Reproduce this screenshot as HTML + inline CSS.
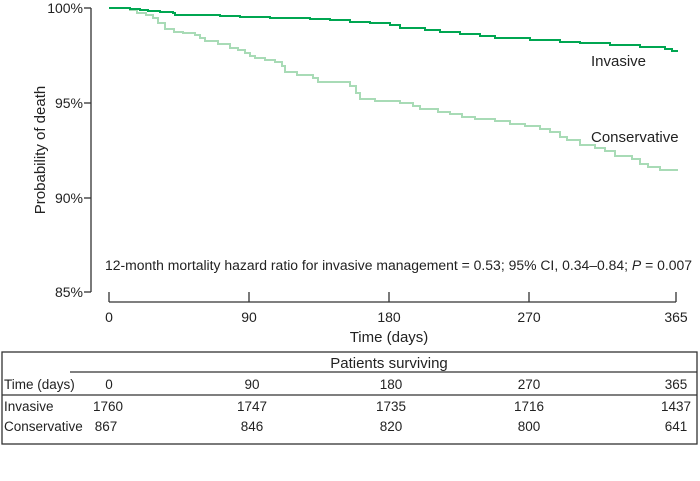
<!DOCTYPE html>
<html><head><meta charset="utf-8"><style>
body{margin:0;background:#fff;width:700px;height:476px;overflow:hidden}
text{font-family:"Liberation Sans",sans-serif;fill:#222}
</style></head><body>
<svg width="700" height="476" viewBox="0 0 700 476" xmlns="http://www.w3.org/2000/svg">
<g stroke="#333" stroke-width="1.3" fill="none">
<line x1="91" y1="8" x2="91" y2="292"/>
<line x1="84" y1="8" x2="91" y2="8"/>
<line x1="84" y1="103" x2="91" y2="103"/>
<line x1="84" y1="198" x2="91" y2="198"/>
<line x1="84" y1="292" x2="91" y2="292"/>
<line x1="109" y1="302" x2="676" y2="302"/>
<line x1="109" y1="292" x2="109" y2="302"/>
<line x1="249" y1="292" x2="249" y2="302"/>
<line x1="389" y1="292" x2="389" y2="302"/>
<line x1="529" y1="292" x2="529" y2="302"/>
<line x1="676" y1="292" x2="676" y2="302"/>
</g>
<g font-size="14" text-anchor="end">
<text x="83" y="13">100%</text><text x="83" y="108">95%</text><text x="83" y="203">90%</text><text x="83" y="297">85%</text>
</g>
<g font-size="14" text-anchor="middle">
<text x="109" y="322">0</text><text x="249" y="322">90</text><text x="389" y="322">180</text><text x="529" y="322">270</text><text x="676" y="322">365</text>
<text x="389" y="342" font-size="15">Time (days)</text>
</g>
<text transform="translate(45,150) rotate(-90)" font-size="15" text-anchor="middle">Probability of death</text>
<text x="105" y="270" font-size="13.5" textLength="587" lengthAdjust="spacingAndGlyphs">12-month mortality hazard ratio for invasive management = 0.53; 95% CI, 0.34–0.84; <tspan font-style="italic">P</tspan> = 0.007</text>
<text x="591" y="66" font-size="15">Invasive</text>
<text x="591" y="142" font-size="15">Conservative</text>
<polyline fill="none" stroke="#a8dbb6" stroke-width="2" points="109,8 130,8 130,10 137,10 137,13 146,13 146,15 153,15 153,18 158,18 158,23 165,23 165,29 174,29 174,32 183,32 183,33 195,33 195,35 200,35 200,38 205,38 205,41 218,41 218,44 230,44 230,48 238,48 238,50 245,50 245,53 250,53 250,56 255,56 255,58 265,58 265,60 275,60 275,62 282,62 282,66 285,66 285,72 297,72 297,75 313,75 313,78 318,78 318,82 350,82 350,86 356,86 356,93 360,93 360,99 375,99 375,101 400,101 400,103 413,103 413,106 420,106 420,109 438,109 438,112 450,112 450,114 462,114 462,117 475,117 475,119 495,119 495,121 510,121 510,124 525,124 525,126 540,126 540,129 550,129 550,132 560,132 560,137 567,137 567,140 580,140 580,145 595,145 595,148 605,148 605,151 615,151 615,156 632,156 632,159 640,159 640,164 648,164 648,167 660,167 660,170 678,170"/>
<polyline fill="none" stroke="#00a651" stroke-width="2" points="109,8 130,8 130,9 140,9 140,10 148,10 148,11 160,11 160,12 173,12 173,13 175,13 175,15 220,15 220,16 240,16 240,17 270,17 270,18 310,18 310,19 330,19 330,20 350,20 350,22 370,22 370,23 390,23 390,25 400,25 400,28 425,28 425,30 440,30 440,32 460,32 460,34 480,34 480,36 495,36 495,38 530,38 530,40 560,40 560,42 580,42 580,43 610,43 610,45 640,45 640,47 665,47 665,49 672,49 672,51 678,51"/>
<g stroke="#333" stroke-width="1.3" fill="none">
<rect x="2" y="352" width="695" height="92"/>
<line x1="70" y1="372" x2="697" y2="372"/>
<line x1="2" y1="395" x2="697" y2="395"/>
</g>
<g font-size="13.5">
<text x="389" y="368" font-size="15" text-anchor="middle">Patients surviving</text>
<text x="4" y="389">Time (days)</text>
<text x="4" y="411">Invasive</text>
<text x="4" y="431">Conservative</text>
</g>
<g font-size="13.5" text-anchor="middle">
<text x="109" y="389">0</text><text x="252" y="389">90</text><text x="391" y="389">180</text><text x="529" y="389">270</text><text x="676" y="389">365</text>
<text x="108" y="411">1760</text><text x="252" y="411">1747</text><text x="391" y="411">1735</text><text x="529" y="411">1716</text><text x="676" y="411">1437</text>
<text x="106" y="431">867</text><text x="252" y="431">846</text><text x="391" y="431">820</text><text x="529" y="431">800</text><text x="676" y="431">641</text>
</g>
</svg>
</body></html>
